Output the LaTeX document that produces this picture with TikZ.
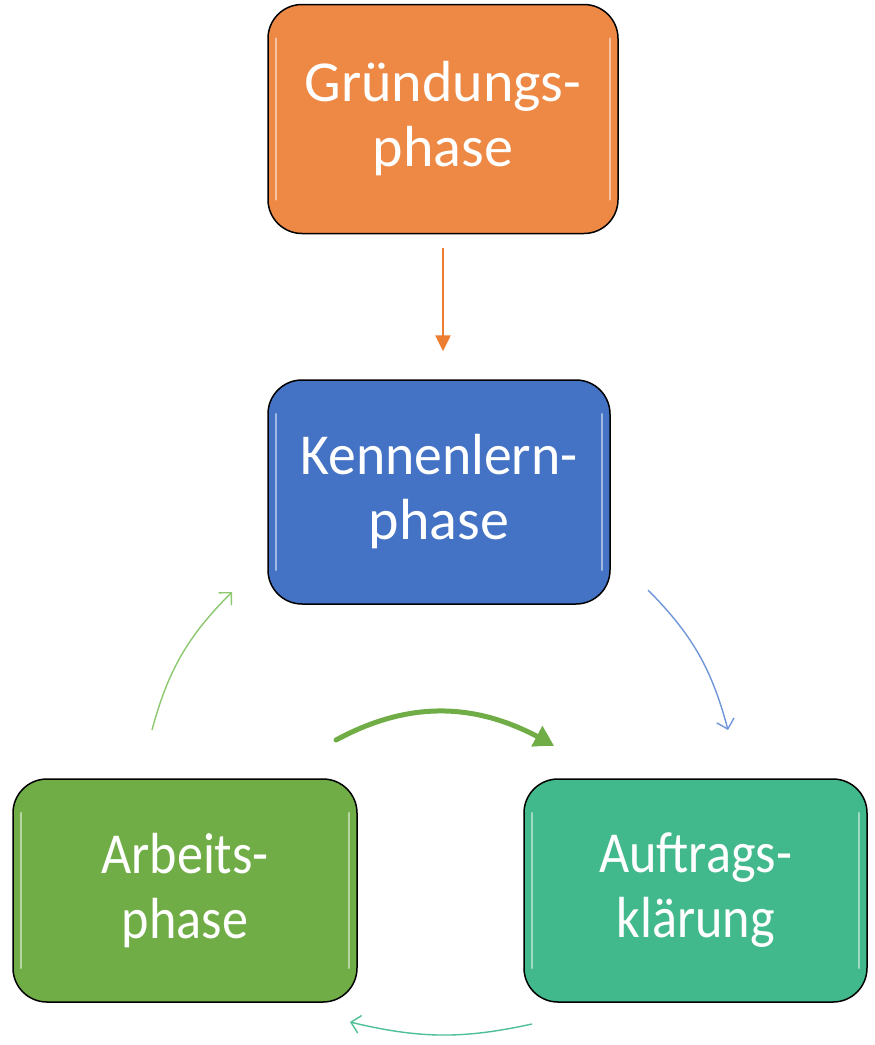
\documentclass[tikz,border=0pt]{standalone}
\usepackage{fontspec}
\setmainfont{Carlito}
\usetikzlibrary{arrows.meta,bending}
\definecolor{cOrange}{RGB}{237,137,69}
\definecolor{cBlue}{RGB}{68,114,196}
\definecolor{cGreen}{RGB}{112,173,71}
\definecolor{cTeal}{RGB}{66,185,140}
\definecolor{aOrange}{RGB}{237,125,49}
\definecolor{aBlue}{RGB}{111,150,216}
\definecolor{aGreen}{RGB}{140,200,110}
\definecolor{aTeal}{RGB}{77,192,149}
\tikzset{
  phasebox/.style={draw=black, line width=1.5pt, rounded corners=34pt,
    text=white, align=center, font=\fontsize{58}{65}\selectfont,
    path picture={
      \draw[white, opacity=0.5, line width=2.5pt, line cap=round]
        ([xshift=8pt,yshift=-34pt]path picture bounding box.north west) --
        ([xshift=8pt,yshift=34pt]path picture bounding box.south west);
      \draw[white, opacity=0.5, line width=2.5pt, line cap=round]
        ([xshift=-8pt,yshift=-34pt]path picture bounding box.north east) --
        ([xshift=-8pt,yshift=34pt]path picture bounding box.south east);
    }},
  thinarrow/.style={line width=1.4pt, -{Straight Barb[length=9pt,width=18pt,bend]}},
}
\begin{document}
\begin{tikzpicture}[x=1pt,y=-1pt]
\useasboundingbox (0,0) rectangle (875,1045);
\node[phasebox, fill=cOrange, minimum width=350pt, minimum height=229pt] (g) at (443,119) {Gründungs-\\phase};
\node[phasebox, fill=cBlue, minimum width=342pt, minimum height=224pt] (k) at (439,492) {\scalebox{0.96}[1]{Kennenlern-}\\phase};
\node[phasebox, fill=cGreen, minimum width=344pt, minimum height=223pt, text width=330pt] (a) at (185,890.5) {\scalebox{0.9}[1]{Arbeits-}\\\scalebox{0.9}[1]{phase}};
\node[phasebox, fill=cTeal, minimum width=343pt, minimum height=223pt, text width=330pt] (t) at (695.5,890.5) {\scalebox{0.9}[1]{Auftrags-}\\\scalebox{0.9}[1]{klärung}};

\draw[aOrange, line width=2.5pt, -{Triangle[length=16pt,width=15pt]}, shorten <=14pt, shorten >=28pt] (g.south) -- (g.south |- k.north);

\coordinate (kbs) at (648,590);
\coordinate (kbe) at (728,730);
\coordinate (lgs) at (152,730);
\coordinate (lge) at (232,592);
\coordinate (tgs) at (336,740);
\coordinate (tge) at (554,746);
\coordinate (bts) at (532,1024);
\coordinate (bte) at (350,1022);

\draw[aBlue, thinarrow] (kbs) to[bend left=15] (kbe);
\draw[aGreen, thinarrow] (lgs) to[bend left=15] (lge);
\draw[aTeal, thinarrow] (bts) to[bend left=13] (bte);
\draw[cGreen, line width=5pt, line cap=round, -{Triangle[length=20pt,width=22pt,bend]}] (tgs) to[bend left=30] (tge);
\end{tikzpicture}
\end{document}
